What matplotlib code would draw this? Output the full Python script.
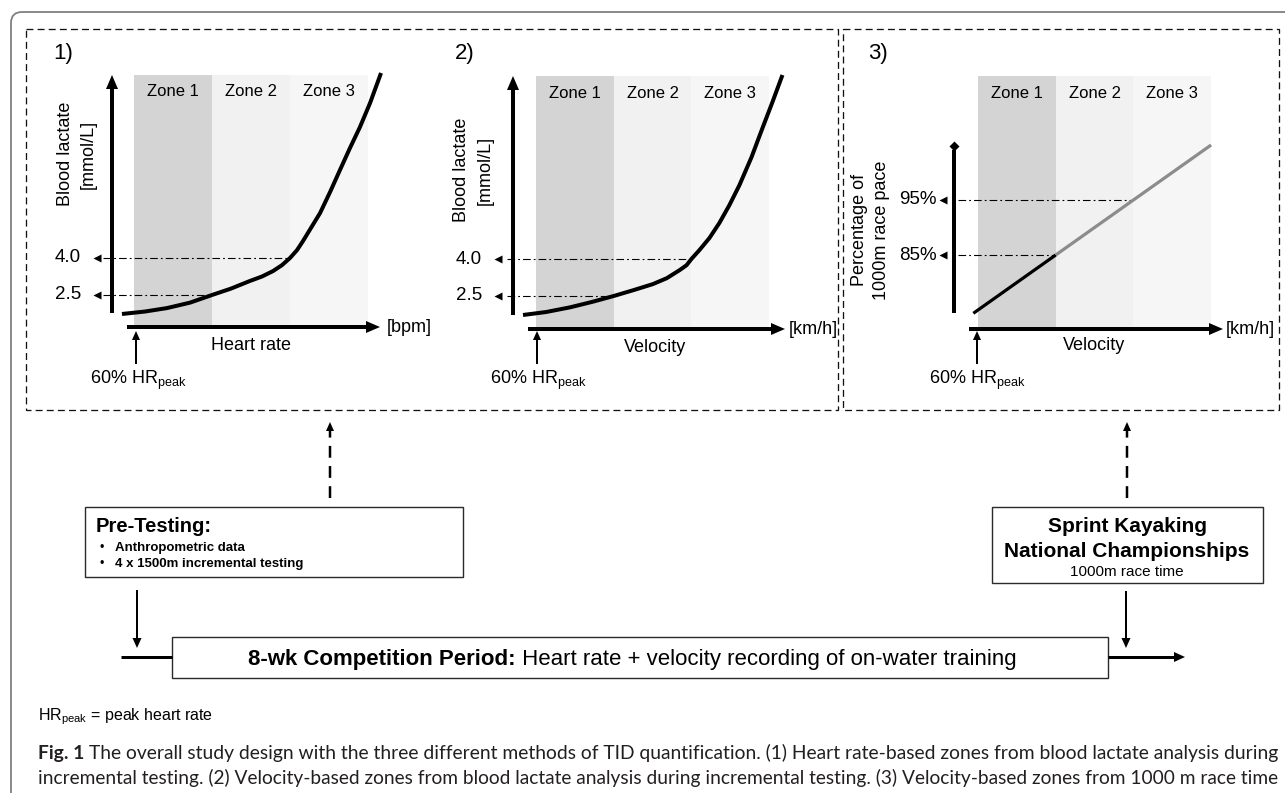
import os
import math
import matplotlib
matplotlib.use('Agg')
import matplotlib.pyplot as plt
from matplotlib.patches import Rectangle, FancyBboxPatch, Polygon
from matplotlib import font_manager as fm
from matplotlib.font_manager import FontProperties

# ------------------------------------------------------------------ data
zone_labels = ['Zone 1', 'Zone 2', 'Zone 3']
zone_edges = [0, 1, 2, 3]                    # zone boundaries (zone units)
zone_colors = ['#d4d4d4', '#f1f1f1', '#f6f6f6']

# panel 1: blood lactate (mmol/L) vs heart rate (zone units)
hr_x = [-0.154, 0.141, 0.423, 0.718, 1.0, 1.244, 1.487, 1.641, 1.782, 1.897,
        2.0, 2.09, 2.167, 2.269, 2.385, 2.513, 2.641, 2.769, 2.897, 3.026, 3.167]
hr_lactate = [1.73, 1.83, 1.97, 2.19, 2.5, 2.76, 3.07, 3.25, 3.47, 3.71,
              4.0, 4.32, 4.69, 5.22, 5.82, 6.67, 7.57, 8.46, 9.31, 10.28, 11.5]
# panel 2: blood lactate (mmol/L) vs velocity (zone units)
vel_x = [-0.167, 0.129, 0.438, 0.721, 1.0, 1.257, 1.502, 1.682, 1.849, 1.938,
         2.0, 2.103, 2.232, 2.36, 2.49, 2.619, 2.774, 2.915, 3.044, 3.172]
vel_lactate = [1.73, 1.85, 2.04, 2.26, 2.5, 2.74, 2.98, 3.22, 3.55, 3.75,
               4.0, 4.36, 4.85, 5.46, 6.19, 7.0, 8.13, 9.31, 10.37, 11.46]
lactate_thresholds = [2.5, 4.0]
lactate_threshold_x = [1.0, 2.0]
lactate_tick_labels = ['2.5', '4.0']
# panel 3: percentage of 1000 m race pace vs velocity (zone units)
pace_x = [-0.06, 1.0, 3.0]
pace_pct = [74.4, 85.0, 105.0]
pace_thresholds = [85, 95]
pace_threshold_x = [1.0, 2.0]
pace_tick_labels = ['85%', '95%']

caption_line1 = ('The overall study design with the three different methods of TID '
                 'quantification. (1) Heart rate-based zones from blood lactate analysis during')
caption_line2 = ('incremental testing. (2) Velocity-based zones from blood lactate analysis '
                 'during incremental testing. (3) Velocity-based zones from 1000 m race time')

# ------------------------------------------------------------------ setup
W, H, DPI = 1285, 793, 100
PT = 72.0 / DPI
plt.rcParams['font.family'] = ['Liberation Sans', 'DejaVu Sans']
plt.rcParams['mathtext.fontset'] = 'custom'
plt.rcParams['mathtext.rm'] = 'Liberation Sans'
plt.rcParams['mathtext.default'] = 'regular'
plt.rcParams['lines.scale_dashes'] = False

fig = plt.figure(figsize=(W / DPI, H / DPI), dpi=DPI)
fig.patch.set_facecolor('white')

DASHDOT = (0, (5.5, 2.2, 1.3, 2.2))


def make_panel(zone_x0, unit, v1, p1, v2, p2):
    L, R, T, B = zone_x0 - 130, zone_x0 + 330, 20, 420
    ax = fig.add_axes([L / W, 1 - B / H, (R - L) / W, (B - T) / H])
    px_per = (p1 - p2) / (v2 - v1)
    ax.set_xlim((L - zone_x0) / unit, (R - zone_x0) / unit)
    ax.set_ylim(v1 - (B - p1) / px_per, v1 + (p1 - T) / px_per)
    ax.axis('off')
    ax.patch.set_visible(False)
    vx = lambda px: (px - zone_x0) / unit
    vy = lambda py: v1 + (p1 - py) / px_per
    return ax, vx, vy


def draw_zones(ax, vx, vy, zone_top, zone_bottom, label_y):
    for i in range(3):
        e0, e1 = zone_edges[i], zone_edges[i + 1]
        ax.add_patch(Rectangle((e0, vy(zone_bottom)), e1 - e0,
                               vy(zone_top) - vy(zone_bottom),
                               fc=zone_colors[i], ec='none', zorder=0))
        ax.text((e0 + e1) / 2, vy(label_y), zone_labels[i], ha='center',
                va='center', fontsize=12, zorder=3)


def draw_thresholds(ax, vx, vy, vals, xs, labels, dd_x0, head_x, lab_x, fs):
    for v, x, lab in zip(vals, xs, labels):
        ax.plot([vx(dd_x0), x], [v, v], color='k', lw=1.1 * PT, ls=DASHDOT,
                dash_capstyle='butt', zorder=2)
        ax.plot([vx(head_x)], [v], marker='<', ms=6.2, color='k', mec='none',
                zorder=3)
        ax.text(vx(lab_x), v, lab, ha='right', va='center', fontsize=fs,
                zorder=3)


# panels (data axes)
ax1, vx1, vy1 = make_panel(134, 78.0, 2.5, 295, 4.0, 258)
draw_zones(ax1, vx1, vy1, 75, 327, 92)
draw_thresholds(ax1, vx1, vy1, lactate_thresholds, lactate_threshold_x,
                lactate_tick_labels, 103, 97, 81, 13.5)
ax1.plot(hr_x, hr_lactate, color='k', lw=4 * PT, solid_capstyle='butt',
         solid_joinstyle='round', zorder=4)

ax2, vx2, vy2 = make_panel(536, 77.7, 2.5, 296, 4.0, 259)
draw_zones(ax2, vx2, vy2, 76, 329, 93)
draw_thresholds(ax2, vx2, vy2, lactate_thresholds, lactate_threshold_x,
                lactate_tick_labels, 507, 498, 482, 13.5)
ax2.plot(vel_x, vel_lactate, color='k', lw=4 * PT, solid_capstyle='butt',
         solid_joinstyle='round', zorder=4)

ax3, vx3, vy3 = make_panel(978, 77.7, 85, 255, 95, 200)
draw_zones(ax3, vx3, vy3, 76, 329, 93)
draw_thresholds(ax3, vx3, vy3, pace_thresholds, pace_threshold_x,
                pace_tick_labels, 958, 943, 937, 13.5)
ax3.plot(pace_x[:2], pace_pct[:2], color='k', lw=3.2 * PT,
         solid_capstyle='butt', zorder=4)
ax3.plot(pace_x[1:], pace_pct[1:], color='#8c8c8c', lw=3.2 * PT,
         solid_capstyle='butt', zorder=4)

# ------------------------------------------------------------------ overlay (pixel coordinates)
ov = fig.add_axes([0, 0, 1, 1])
ov.set_xlim(0, W)
ov.set_ylim(H, 0)
ov.axis('off')
ov.patch.set_visible(False)
ov.set_zorder(10)


def seg(x0, y0, x1, y1, lw, color='k', ls='-'):
    ov.plot([x0, x1], [y0, y1], color=color, lw=lw * PT, ls=ls,
            solid_capstyle='butt', dash_capstyle='butt')


def arrow(x0, y0, x1, y1, lw, hl, hw, color='k', ls='-'):
    dx, dy = x1 - x0, y1 - y0
    L = math.hypot(dx, dy)
    ux, uy = dx / L, dy / L
    bx, by = x1 - ux * hl, y1 - uy * hl
    seg(x0, y0, bx + ux * 1, by + uy * 1, lw, color, ls)
    px, py = -uy, ux
    ov.add_patch(Polygon([(x1, y1), (bx + px * hw / 2, by + py * hw / 2),
                          (bx - px * hw / 2, by - py * hw / 2)], closed=True,
                         fc=color, ec='none'))


# outer frame
ov.add_patch(FancyBboxPatch((11, 12), 1400, 900,
                            boxstyle='round,pad=0,rounding_size=11',
                            fc='none', ec='#808080', lw=1.8 * PT))
# dashed boxes
for (x0, y0, x1, y1) in [(26, 29, 838, 410), (843, 29, 1279, 410)]:
    ov.add_patch(Rectangle((x0, y0), x1 - x0, y1 - y0, fill=False, ec='#111111',
                           lw=1.3 * PT, ls=(0, (5.0, 3.0))))

# panel numbers
ov.text(53, 54, '1)', fontsize=16, va='center', ha='left')
ov.text(455, 53, '2)', fontsize=16, va='center', ha='left')
ov.text(868, 53, '3)', fontsize=16, va='center', ha='left')

# axis arrows
arrow(112, 313, 112, 75, 4, 14, 12)
arrow(127, 327, 380, 327, 4, 14, 12)
arrow(513, 315, 513, 76, 4, 14, 12)
arrow(528, 329, 785, 329, 4, 14, 12)
seg(954, 313, 954, 150, 4)
ov.plot([954], [146], marker='D', ms=5.5, color='k', mec='none')
arrow(969, 329, 1223, 329, 4, 14, 12)

# axis titles
ov.text(65, 154, 'Blood lactate', rotation=90, ha='center', va='center', fontsize=13)
ov.text(88, 154, '[mmol/L]', rotation=90, ha='center', va='center', fontsize=13)
ov.text(461, 170, 'Blood lactate', rotation=90, ha='center', va='center', fontsize=13)
ov.text(485, 170, '[mmol/L]', rotation=90, ha='center', va='center', fontsize=13)
ov.text(860, 230, 'Percentage of', rotation=90, ha='center', va='center', fontsize=13)
ov.text(882, 230, '1000m race pace', rotation=90, ha='center', va='center', fontsize=13)

ov.text(387, 327, '[bpm]', ha='left', va='center', fontsize=13)
ov.text(789, 329, '[km/h]', ha='left', va='center', fontsize=13)
ov.text(1226, 329, '[km/h]', ha='left', va='center', fontsize=13)
ov.text(251, 346, 'Heart rate', ha='center', va='center', fontsize=13)
ov.text(655, 347, 'Velocity', ha='center', va='center', fontsize=13)
ov.text(1094, 346, 'Velocity', ha='center', va='center', fontsize=13)

for ax_x, tx in [(136, 90), (537, 490), (977, 929)]:
    arrow(ax_x, 364, ax_x, 331, 2, 9, 8)
    ov.text(tx, 384, r'60% $\mathregular{HR_{peak}}$', ha='left',
            va='baseline', fontsize=13)

# ------------------------------------------------------------------ lower flow chart
arrow(330, 498, 330, 422, 2.5, 9, 8, ls=(0, (8.5, 6.0)))
arrow(1127, 498, 1127, 422, 2.5, 9, 8, ls=(0, (8.5, 6.0)))

ov.add_patch(Rectangle((85, 507), 463 - 85, 577 - 507, fill=False,
                       ec='#2a2a2a', lw=1.4 * PT))
ov.text(96, 532, 'Pre-Testing:', fontsize=14.5, fontweight='bold',
        ha='left', va='baseline')
ov.text(99, 551, '•', fontsize=9, ha='left', va='baseline')
ov.text(115, 551, 'Anthropometric data', fontsize=9.5, fontweight='bold',
        ha='left', va='baseline')
ov.text(99, 567, '•', fontsize=9, ha='left', va='baseline')
ov.text(115, 567, '4 x 1500m incremental testing', fontsize=9.5,
        fontweight='bold', ha='left', va='baseline')

ov.add_patch(Rectangle((992, 507), 1263 - 992, 583 - 507, fill=False,
                       ec='#2a2a2a', lw=1.4 * PT))
ov.text(1127, 532, 'Sprint Kayaking', fontsize=15, fontweight='bold',
        ha='center', va='baseline')
ov.text(1127, 557, 'National Championships', fontsize=15, fontweight='bold',
        ha='center', va='baseline')
ov.text(1127, 576, '1000m race time', fontsize=11, ha='center', va='baseline')

arrow(137, 590, 137, 648, 2, 10, 9)
arrow(1126, 591, 1126, 648, 2, 10, 9)
seg(121, 657, 172, 657, 3)
arrow(1108, 657, 1185, 657, 3, 11, 10)

ov.add_patch(Rectangle((172, 637), 1108 - 172, 678 - 637, fill=False,
                       ec='#2a2a2a', lw=1.4 * PT))
renderer = fig.canvas.get_renderer()
tb = ov.text(248, 665, '8-wk Competition Period:', fontsize=16,
             fontweight='bold', ha='left', va='baseline')
bb = tb.get_window_extent(renderer)
ov.text(bb.x1 + 0, 665, ' Heart rate + velocity recording of on-water training',
        fontsize=16, ha='left', va='baseline')

ov.text(38, 720, r'$\mathregular{HR_{peak}}$ = peak heart rate', fontsize=11.5,
        ha='left', va='baseline')

# ------------------------------------------------------------------ caption
files = {os.path.basename(f.fname): f.fname for f in fm.fontManager.ttflist}


def pick(cands):
    for c in cands:
        if c in files:
            return files[c]
    return None


reg_file = pick(['NotoSans-Condensed.ttf', 'NotoSans-SemiCondensed.ttf',
                 'LiberationSansNarrow-Regular.ttf', 'Lato-Regular.ttf'])
bold_file = pick(['NotoSans-CondensedBold.ttf', 'NotoSans-SemiCondensedBold.ttf',
                  'LiberationSansNarrow-Bold.ttf', 'Lato-Bold.ttf'])
fp_reg = FontProperties(fname=reg_file) if reg_file else FontProperties(family='Lato')
fp_bold = FontProperties(fname=bold_file) if bold_file else FontProperties(family='Lato', weight='bold')

CAP_COL = '#231f20'


def fitted(x, y, s, x_end, fp):
    t = ov.text(x, y, s, fontproperties=fp, fontsize=12, ha='left',
                va='baseline', color=CAP_COL)
    for _ in range(4):
        w = t.get_window_extent(renderer).width
        t.set_fontsize(t.get_fontsize() * (x_end - x) / w)
    return t


t1 = fitted(89, 759, caption_line1, 1278, fp_reg)
ov.text(38, 759, 'Fig. 1', fontproperties=fp_bold, fontsize=t1.get_fontsize(),
        ha='left', va='baseline', color=CAP_COL)
fitted(38, 784, caption_line2, 1278, fp_reg)

fig.savefig('out.png', dpi=DPI)
